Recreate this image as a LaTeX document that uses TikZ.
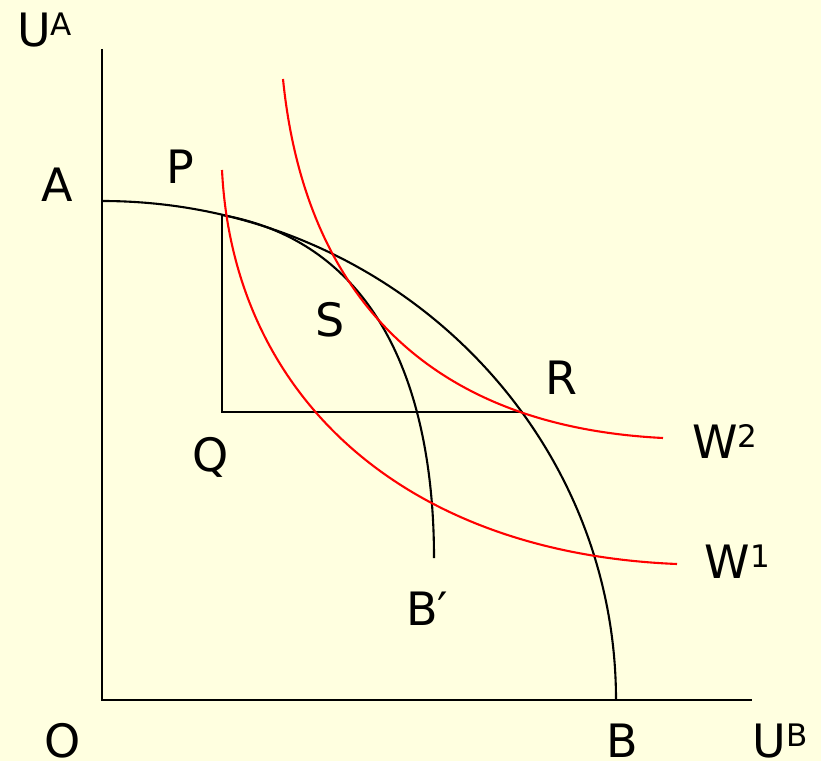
\documentclass[tikz,border=0pt]{standalone}
\usepackage{fontspec}
\setmainfont{DejaVu Sans}
\definecolor{bgyellow}{RGB}{255,255,224}
\newcommand{\supr}[1]{\raisebox{11pt}{\fontsize{31}{33}\selectfont #1}}
\begin{document}
\begin{tikzpicture}[x=1pt,y=1pt,
  lbl/.style={inner sep=0pt, anchor=center, font=\fontsize{46}{50}\selectfont},
  ax/.style={line width=2.2pt, black},
  frontier/.style={line width=2.1pt, black},
  welfare/.style={line width=2.1pt, red},
]
\fill[bgyellow] (0,0) rectangle (821,761);
\useasboundingbox (0,0) rectangle (821,761);

\coordinate (O) at (102,61);
\coordinate (Ytop) at (102,712);
\coordinate (Xend) at (752,61);
\coordinate (Apt) at (102,560);
\coordinate (Ppt) at (222,546);
\coordinate (Qpt) at (222,349);
\coordinate (Rpt) at (523,349);
\coordinate (Bp) at (434,203);
\coordinate (W1s) at (222,591);
\coordinate (W1e) at (677,197);
\coordinate (W2s) at (283,682);
\coordinate (W2e) at (663,323);

% axes
\draw[ax] (Ytop) -- (O) -- (Xend);

% utility possibility frontiers
\draw[frontier] (Apt) arc[start angle=90, end angle=0, x radius=514, y radius=499];
\draw[frontier] (Ppt) .. controls (389,516) and (434,353) .. (Bp);
\draw[frontier] (Ppt) -- (Qpt) -- (Rpt);

% welfare contours
\draw[welfare] (W1s) .. controls (233,366) and (402,208) .. (W1e);
\draw[welfare] (W2s) .. controls (303,482) and (413,335.5) .. (W2e);

% labels
\node[lbl] (lUA) at (44.5,730.5) {U\supr{A}};
\node[lbl] (lA) at (57,576) {A};
\node[lbl] (lP) at (180,594) {P};
\node[lbl] (lS) at (330,441) {S};
\node[lbl] (lR) at (561,383) {R};
\node[lbl] (lQ) at (211,304) {Q};
\node[lbl] (lW2) at (725,320) {W\supr{2}};
\node[lbl] (lW1) at (737.5,199.5) {W\supr{1}};
\node[lbl] (lBp) at (427,152) {B′};
\node[lbl] (lO) at (63,20) {O};
\node[lbl] (lB) at (622,20) {B};
\node[lbl] (lUB) at (780,20) {U\supr{B}};
\end{tikzpicture}
\end{document}
